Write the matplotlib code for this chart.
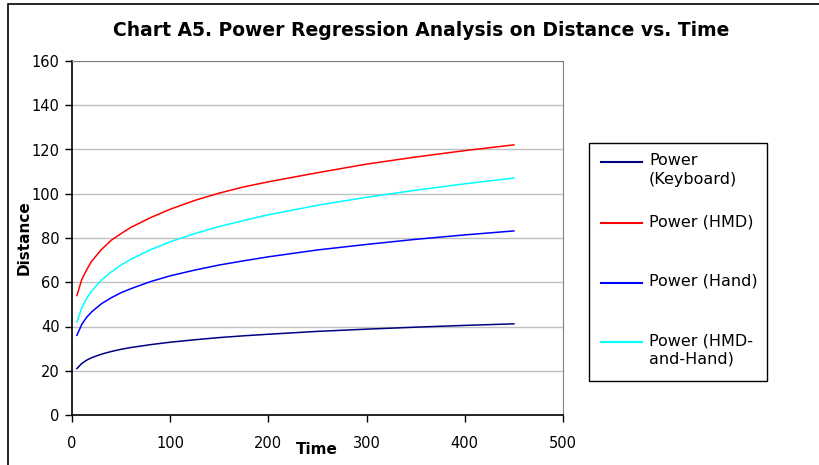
import matplotlib.pyplot as plt
from matplotlib.patches import Rectangle
from matplotlib.lines import Line2D

# values
time = [5, 10, 15, 20, 30, 40, 50, 60, 80, 100, 125, 150, 175, 200, 250, 300, 350, 400, 450]
keyboard = [21, 23.3, 24.8, 25.9, 27.5, 28.7, 29.7, 30.5, 31.8, 32.9, 34, 35, 35.8, 36.5, 37.8, 38.8, 39.7, 40.5, 41.2]
hmd = [54, 61.3, 65.7, 69.5, 74.8, 79, 82, 84.8, 89.2, 93, 97, 100.3, 103.1, 105.4, 109.5, 113.4, 116.6, 119.5, 122.1]
hand = [36, 41, 44.2, 46.6, 50.3, 53, 55.3, 57.1, 60.3, 62.9, 65.5, 67.8, 69.7, 71.5, 74.6, 77.1, 79.4, 81.4, 83.2]
hmd_hand = [42, 48.5, 52.8, 56, 61, 64.7, 67.8, 70.4, 74.7, 78.3, 82, 85.2, 87.9, 90.5, 94.8, 98.4, 101.6, 104.5, 107.1]

series = [
    ("Power\n(Keyboard)", keyboard, "#000080"),
    ("Power (HMD)", hmd, "#FF0000"),
    ("Power (Hand)", hand, "#0000FF"),
    ("Power (HMD-\nand-Hand)", hmd_hand, "#00FFFF"),
]

W, H = 820, 465
fig = plt.figure(figsize=(W / 100, H / 100), dpi=100)

def fx(px):
    return px / W

def fy(py):
    return 1 - py / H

ax = fig.add_axes([fx(72), fy(415), fx(563) - fx(72), fy(61) - fy(415)])

for label, vals, col in series:
    ax.plot(time, vals, color=col, linewidth=1.1)

ax.set_xlim(0, 500)
ax.set_ylim(0, 160)
ax.set_xticks(range(0, 501, 100))
ax.set_yticks(range(0, 161, 20))
ax.grid(axis="y", color="#c0c0c0", linewidth=1)
ax.set_axisbelow(True)
for s in ["top", "right"]:
    ax.spines[s].set_color("#808080")
for s in ["left", "bottom"]:
    ax.spines[s].set_color("black")
    ax.spines[s].set_linewidth(1.2)
ax.tick_params(direction="out", length=5, width=1, labelsize=10.5, pad=4)
ax.tick_params(axis="x", pad=10)

fig.text(fx(317), fy(449), "Time", ha="center", va="center", fontsize=11, fontweight="bold")
fig.text(fx(24), fy(238), "Distance", ha="center", va="center", rotation=90,
         fontsize=11, fontweight="bold")
fig.text(fx(421), fy(30), "Chart A5. Power Regression Analysis on Distance vs. Time",
         ha="center", va="center", fontsize=13.5, fontweight="bold")

# outer chart border (runs off the right and bottom edges)
fig.add_artist(Rectangle((fx(8), fy(H + 40)), 2.0, fy(4) - fy(H + 40),
                         transform=fig.transFigure, fill=False,
                         edgecolor="black", linewidth=1.2))

# legend box
fig.add_artist(Rectangle((fx(589), fy(381)), fx(767) - fx(589), fy(143) - fy(381),
                         transform=fig.transFigure, fill=False,
                         edgecolor="black", linewidth=1))
ys = [162, 223, 283, 342]
for (label, vals, col), y in zip(series, ys):
    fig.add_artist(Line2D([fx(601), fx(642)], [fy(y), fy(y)], color=col,
                          linewidth=1.5, transform=fig.transFigure))
    fig.text(fx(649), fy(y - 9), label, ha="left", va="top", fontsize=11.5,
             linespacing=1.3)

fig.savefig("out.png", dpi=100)
